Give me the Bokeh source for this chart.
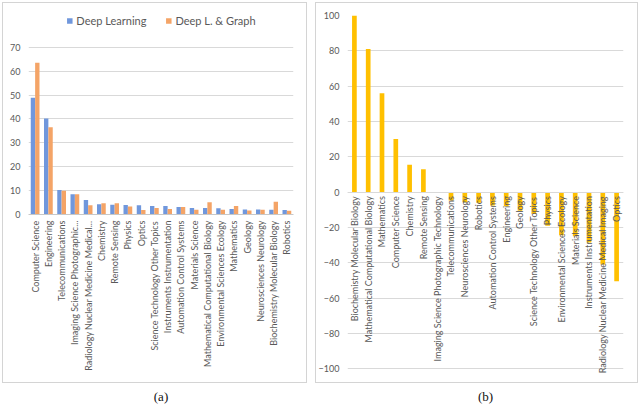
import math
from bokeh.plotting import figure
from bokeh.models import (FactorRange, Range1d, Legend, LegendItem, FixedTicker,
                          Label, ColumnDataSource)
from bokeh.transform import dodge
from bokeh.layouts import row, column
from bokeh.embed import file_html
from bokeh.resources import INLINE

# ---------------- data ----------------
categories_a = [
    "Computer Science", "Engineering", "Telecommunications",
    "Imaging Science Photographic...", "Radiology Nuclear Medicine Medical...",
    "Chemistry", "Remote Sensing", "Physics", "Optics",
    "Science Technology Other Topics", "Instruments Instrumentation",
    "Automation Control Systems", "Materials Science",
    "Mathematical Computational Biology", "Environmental Sciences Ecology",
    "Mathematics", "Geology", "Neurosciences Neurology",
    "Biochemistry Molecular Biology", "Robotics",
]
deep_learning = [48.9, 40.2, 10.3, 8.5, 6.1, 4.3, 4.1, 4.0, 3.9, 3.6,
                 3.6, 3.1, 2.7, 2.7, 2.6, 2.3, 2.1, 2.1, 2.0, 1.9]
deep_graph = [63.5, 36.5, 9.9, 8.5, 3.9, 4.7, 4.7, 3.3, 1.9, 2.7,
              2.3, 3.1, 2.0, 5.1, 2.0, 3.6, 1.7, 2.0, 5.3, 1.6]
yticks_a = [0, 10, 20, 30, 40, 50, 60, 70]

categories_b = [
    "Biochemistry Molecular Biology", "Mathematical Computational Biology",
    "Mathematics", "Computer Science", "Chemistry", "Remote Sensing",
    "Imaging Science Photographic Technology", "Telecommunications",
    "Neurosciences Neurology", "Robotics", "Automation Control Systems",
    "Engineering", "Geology", "Science Technology Other Topics", "Physics",
    "Environmental Sciences Ecology", "Materials Science",
    "Instruments Instrumentation", "Radiology Nuclear Medicine Medical Imaging",
    "Optics",
]
difference_b = [100, 81, 56, 30, 15.5, 13, 0, -4.8, -5.7, -6, -7.6, -8,
                -10.5, -12.4, -19, -24.5, -25, -28.6, -41, -50.5]
yticks_b = [-100, -80, -60, -40, -20, 0, 20, 40, 60, 80, 100]

captions = ["(a)", "(b)"]

# ---------------- style ----------------
FONT = "Lato"
GREY_TXT = "#595959"
GRID = "#d9d9d9"
BLUE = "#7097dc"
ORANGE = "#f4a467"
GOLD = "#ffc000"
PANEL_STYLE = {"box-shadow": "inset 0 0 0 1px #d4d4d4"}


def style_axes(p, yticks):
    p.outline_line_color = None
    p.border_fill_color = None
    p.background_fill_color = None
    p.xgrid.grid_line_color = None
    p.ygrid.grid_line_color = GRID
    p.yaxis.ticker = FixedTicker(ticks=yticks)
    p.ygrid.ticker = FixedTicker(ticks=yticks)
    for ax in (p.xaxis, p.yaxis):
        ax.major_tick_line_color = None
        ax.minor_tick_line_color = None
        ax.major_tick_out = 0
        ax.major_tick_in = 0
        ax.minor_tick_out = 0
        ax.minor_tick_in = 0
        ax.major_label_text_font = FONT
        ax.major_label_text_font_size = "9px"
        ax.major_label_text_color = GREY_TXT
    p.yaxis.axis_line_color = None
    p.yaxis.major_label_standoff = 8
    p.xaxis.axis_line_color = "#c8c8c8"
    p.xaxis.major_label_orientation = math.pi / 2
    p.styles = PANEL_STYLE


# ---------------- panel (a) ----------------
pa = figure(width=305, height=381, x_range=FactorRange(*categories_a),
            y_range=Range1d(0, 85.4), output_backend="svg", toolbar_location=None,
            min_border_left=26, min_border_right=14, min_border_top=8,
            min_border_bottom=169)
src_a = ColumnDataSource(dict(cat=categories_a, dl=deep_learning, dg=deep_graph))
r1 = pa.vbar(x=dodge("cat", -0.165, range=pa.x_range), top="dl", width=0.33,
             source=src_a, fill_color=BLUE, line_color=None)
r2 = pa.vbar(x=dodge("cat", 0.165, range=pa.x_range), top="dg", width=0.33,
             source=src_a, fill_color=ORANGE, line_color=None)
style_axes(pa, yticks_a)
pa.xaxis.major_label_standoff = 6
legend = Legend(items=[LegendItem(label="Deep Learning", renderers=[r1]),
                       LegendItem(label="Deep L. & Graph", renderers=[r2])],
                orientation="horizontal", location="top_center",
                glyph_width=7, glyph_height=7, label_height=12,
                label_text_font=FONT, label_text_font_size="11px",
                label_text_color=GREY_TXT, label_standoff=4, spacing=18,
                padding=0, margin=4, border_line_color=None,
                background_fill_alpha=0)
pa.add_layout(legend)

# ---------------- panel (b) ----------------
pb = figure(width=323, height=381, x_range=FactorRange(*categories_b),
            y_range=Range1d(-105, 100), output_backend="svg", toolbar_location=None,
            min_border_left=32, min_border_right=15, min_border_top=13,
            min_border_bottom=6)
src_b = ColumnDataSource(dict(cat=categories_b, val=difference_b))
pb.vbar(x="cat", top="val", width=0.34, source=src_b,
        fill_color=GOLD, line_color=None)
style_axes(pb, yticks_b)
pb.xaxis.fixed_location = 0
pb.xaxis.major_label_standoff = 4
pb.xaxis.axis_line_color = GRID


# ---------------- captions ----------------
def caption(txt, w):
    c = figure(width=w, height=22, x_range=Range1d(0, 1), y_range=Range1d(0, 1),
               output_backend="svg", toolbar_location=None, min_border=0,
               x_axis_type=None, y_axis_type=None)
    c.grid.visible = False
    c.outline_line_color = None
    c.border_fill_color = None
    c.background_fill_color = None
    c.add_layout(Label(x=0.5, y=0.42, text=txt, text_align="center",
                       text_baseline="middle", text_font="Liberation Serif",
                       text_font_size="13px", text_color="#111111"))
    return c


col_a = column(pa, caption(captions[0], 305), spacing=0)
col_b = column(pb, caption(captions[1], 323), spacing=0)
col_a.margin = (2, 0, 0, 2)
col_b.margin = (2, 0, 0, 8)
layout = row(col_a, col_b, spacing=0)

open("out.html", "w").write(file_html(layout, INLINE))
